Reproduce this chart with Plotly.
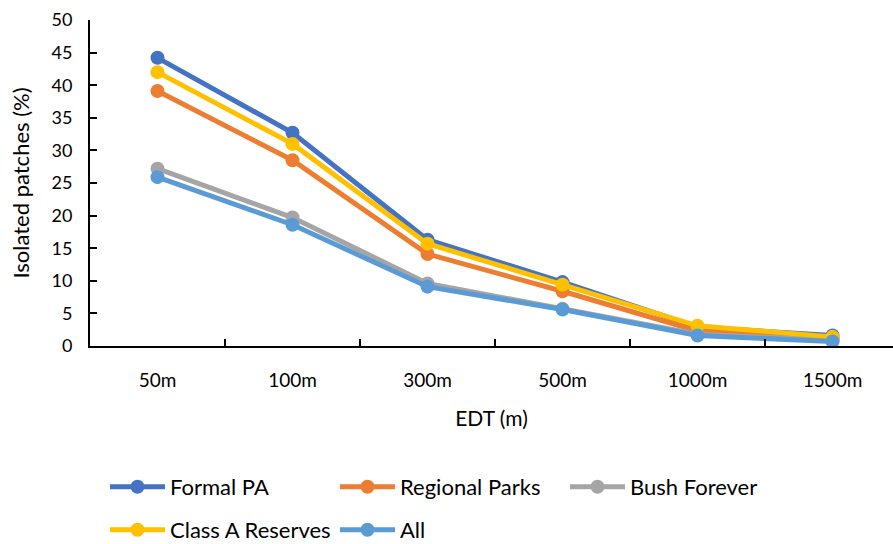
import plotly.graph_objects as go

categories = ["50m", "100m", "300m", "500m", "1000m", "1500m"]
formal_pa = [44.2, 32.7, 16.3, 9.8, 2.9, 1.6]
regional_parks = [39.1, 28.5, 14.1, 8.4, 2.3, 1.2]
bush_forever = [27.2, 19.7, 9.6, 5.7, 1.8, 0.9]
class_a = [42.0, 31.0, 15.7, 9.4, 3.1, 1.4]
all_patches = [25.9, 18.6, 9.1, 5.6, 1.6, 0.7]

series = [
    ("Formal PA", formal_pa, "#4472C4", "legend"),
    ("Regional Parks", regional_parks, "#ED7D31", "legend"),
    ("Bush Forever", bush_forever, "#A5A5A5", "legend"),
    ("Class A Reserves", class_a, "#FFC000", "legend2"),
    ("All", all_patches, "#5B9BD5", "legend2"),
]

FONT = "Lato"
fig = go.Figure()
for name, vals, color, lg in series:
    fig.add_trace(go.Scatter(
        x=categories, y=vals, name=name, mode="lines+markers",
        line=dict(color=color, width=5),
        marker=dict(color=color, size=14),
        legend=lg,
    ))

fig.update_layout(
    width=893, height=544,
    margin=dict(l=90, r=0, t=20, b=198),
    plot_bgcolor="white", paper_bgcolor="white",
    font=dict(family=FONT, size=18, color="#000000"),
    xaxis=dict(
        type="category", range=[-0.5, 5.448], tickson="boundaries",
        ticks="inside", ticklen=7, tickwidth=2, tickcolor="black",
        showline=True, linecolor="black", linewidth=2,
        showgrid=False, ticklabelstandoff=16,
        title=dict(text="EDT (m)", font=dict(size=21, family=FONT), standoff=22),
        tickfont=dict(size=19, family=FONT),
    ),
    yaxis=dict(
        range=[0, 50], dtick=5, ticks="inside", ticklen=7, tickwidth=2,
        tickcolor="black", showline=True, linecolor="black", linewidth=2,
        showgrid=False, zeroline=False, ticklabelstandoff=12,
        title=dict(text="Isolated patches (%)", font=dict(size=22, family=FONT), standoff=16),
        tickfont=dict(size=18, family=FONT),
    ),
    legend=dict(
        orientation="h", xref="container", yref="container",
        x=105/893, y=1 - 487/544, xanchor="left", yanchor="middle",
        entrywidth=160, itemwidth=55, font=dict(size=22, family=FONT),
        bgcolor="rgba(0,0,0,0)",
    ),
    legend2=dict(
        orientation="h", xref="container", yref="container",
        x=105/893, y=1 - 530/544, xanchor="left", yanchor="middle",
        entrywidth=160, itemwidth=55, font=dict(size=22, family=FONT),
        bgcolor="rgba(0,0,0,0)",
    ),
)

fig.write_html("out.html")
